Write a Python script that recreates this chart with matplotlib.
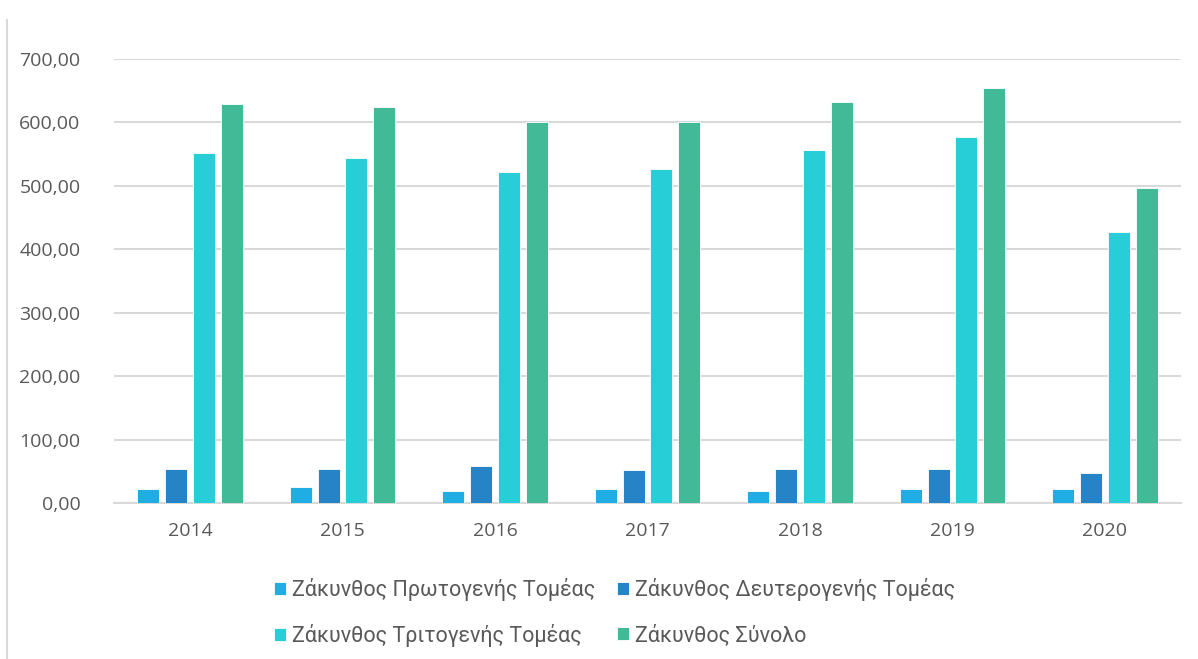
import numpy as np
import matplotlib.pyplot as plt

years = ['2014', '2015', '2016', '2017', '2018', '2019', '2020']
primary = [22, 25.5, 19, 22, 19, 22, 22]
secondary = [53, 53.5, 58, 52, 53.5, 53, 47]
tertiary = [552, 544, 522, 526, 556, 577, 427]
total = [629, 625, 601, 601, 632, 654, 497]

labels = ['Ζάκυνθος Πρωτογενής Τομέας', 'Ζάκυνθος Δευτερογενής Τομέας',
          'Ζάκυνθος Τριτογενής Τομέας', 'Ζάκυνθος Σύνολο']
colors = ['#1FADE4', '#2683C6', '#27CED7', '#42BA97']

plt.rcParams['font.family'] = ['Open Sans', 'DejaVu Sans']

fig = plt.figure(figsize=(11.98, 6.59), dpi=100)
ax = fig.add_axes([0.095, 0.2367, 0.891, 0.6737])

x = np.arange(len(years))
w = 0.145
step = 0.182
series = [primary, secondary, tertiary, total]
handles = []
for i, (vals, c, lab) in enumerate(zip(series, colors, labels)):
    h = ax.bar(x + (i - 1.5) * step, vals, width=w, color=c, label=lab,
               edgecolor='white', linewidth=0.6, zorder=3)
    handles.append(h)

ax.set_xlim(-0.5, len(years) - 0.5)
ax.set_ylim(0, 700)
ax.set_yticks(range(0, 701, 100))
ax.set_yticklabels([f'{v},00' for v in range(0, 701, 100)])
ax.set_xticks(x)
ax.set_xticklabels(years)
ax.yaxis.grid(True, color='#D9D9D9', linewidth=1.5, zorder=0)
for s in ['top', 'right', 'left']:
    ax.spines[s].set_visible(False)
ax.spines['bottom'].set_color('#D9D9D9')
ax.spines['bottom'].set_linewidth(1.5)
ax.tick_params(axis='both', length=0, labelsize=14, labelcolor='#595959')
ax.tick_params(axis='y', pad=24)
ax.tick_params(axis='x', pad=14)

# legend fills column by column, so reorder to get rows like the original
order = [0, 2, 1, 3]
fig.legend(handles=[handles[i] for i in order], labels=[labels[i] for i in order],
           ncol=2, loc='upper center', bbox_to_anchor=(0.513, 0.152), frameon=False,
           prop={'family': ['Roboto', 'DejaVu Sans'], 'size': 15.5},
           labelcolor='#595959', handlelength=0.55, handleheight=0.55,
           handletextpad=0.3, columnspacing=1.0, labelspacing=1.05)

# chart border on the left
fig.add_artist(plt.Line2D([0.006, 0.006], [0, 0.97], color='#D9D9D9', linewidth=1.5))

plt.savefig('out.png', dpi=100)
